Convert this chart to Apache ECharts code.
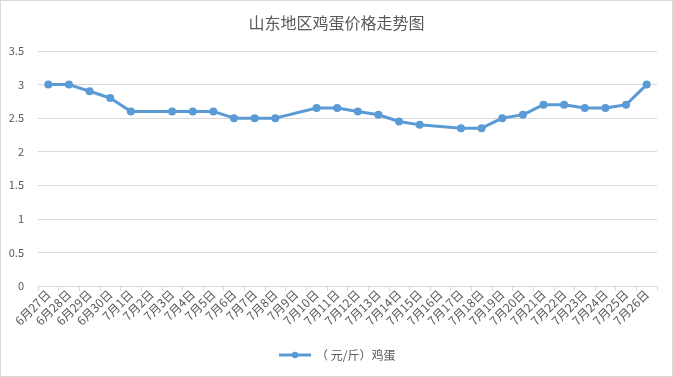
<!DOCTYPE html>
<html>
<head>
<meta charset="utf-8">
<script src="https://cdn.jsdelivr.net/npm/echarts@6/dist/echarts.min.js"></script>
<style>
    html, body { margin: 0; padding: 0; background: #fff; }
    #main { width: 671px; height: 375px; border: 1px solid #d9d9d9; }
</style>
</head>
<body>
<div id="main"></div>
<script>
// 横轴日期
var dates = ['6月27日', '6月28日', '6月29日', '6月30日', '7月1日', '7月2日', '7月3日', '7月4日', '7月5日', '7月6日',
    '7月7日', '7月8日', '7月9日', '7月10日', '7月11日', '7月12日', '7月13日', '7月14日', '7月15日', '7月16日',
    '7月17日', '7月18日', '7月19日', '7月20日', '7月21日', '7月22日', '7月23日', '7月24日', '7月25日', '7月26日'];
// 鸡蛋价格，'-' 表示当天没有数据
var eggPrice = [3.0, 3.0, 2.9, 2.8, 2.6, '-', 2.6, 2.6, 2.6, 2.5,
    2.5, 2.5, '-', 2.65, 2.65, 2.6, 2.55, 2.45, 2.4, '-',
    2.35, 2.35, 2.5, 2.55, 2.7, 2.7, 2.65, 2.65, 2.7, 3.0];
var seriesName = '（ 元/斤）鸡蛋';

var textColor = '#595959';
var lineColor = '#d9d9d9';
var fontFamily = '"Microsoft YaHei", "Noto Sans CJK SC", sans-serif';

var myChart = echarts.init(document.getElementById('main'));

var option = {
    animation: false,
    title: {
        text: '山东地区鸡蛋价格走势图',
        left: 'center',
        top: 9,
        textStyle: { color: textColor, fontSize: 16, fontWeight: 'normal', fontFamily: fontFamily }
    },
    legend: {
        bottom: 10,
        left: 'center',
        itemWidth: 32,
        itemHeight: 8,
        lineStyle: { width: 3 },
        textStyle: { color: textColor, fontSize: 12, fontFamily: fontFamily },
        data: [seriesName]
    },
    grid: {
        left: 37,
        right: 15,
        top: 50,
        bottom: 90,
        containLabel: false
    },
    xAxis: {
        type: 'category',
        data: dates,
        boundaryGap: true,
        axisLine: { lineStyle: { color: lineColor } },
        axisTick: { show: true, length: 5, lineStyle: { color: lineColor } },
        axisLabel: {
            interval: 0,
            rotate: 45,
            margin: 6,
            color: textColor,
            fontSize: 12,
            fontFamily: fontFamily
        }
    },
    yAxis: {
        type: 'value',
        min: 0,
        max: 3.5,
        interval: 0.5,
        axisLine: { show: false },
        axisTick: { show: false },
        axisLabel: { color: textColor, fontSize: 11, margin: 14, fontFamily: fontFamily },
        splitLine: { lineStyle: { color: lineColor } }
    },
    series: [{
        name: seriesName,
        type: 'line',
        data: eggPrice,
        connectNulls: true,
        symbol: 'circle',
        symbolSize: 8,
        color: '#5b9bd5',
        lineStyle: { width: 3, color: '#5b9bd5' },
        itemStyle: { color: '#5b9bd5' }
    }]
};

myChart.setOption(option);
</script>
</body>
</html>
